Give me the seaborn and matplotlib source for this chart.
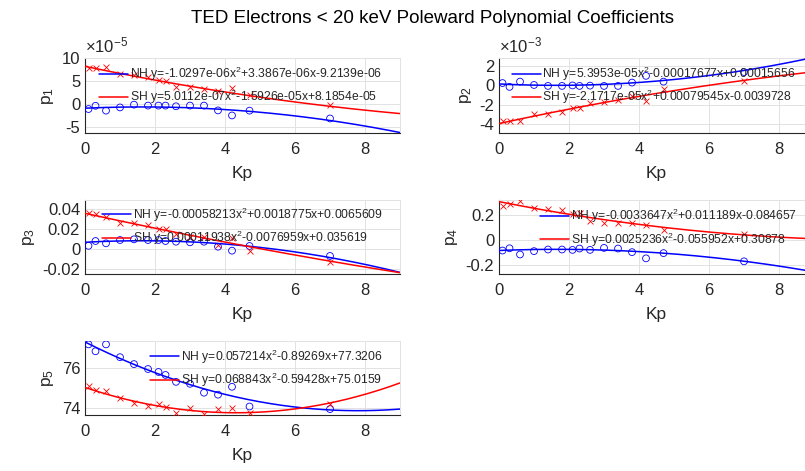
import numpy as np
import pandas as pd
import matplotlib
matplotlib.use("Agg")
import matplotlib.pyplot as plt
import seaborn as sns
from matplotlib.ticker import MultipleLocator, FuncFormatter

# ---------------- data ----------------
kp = [0.1, 0.3, 0.6, 1.0, 1.4, 1.8, 2.1, 2.3, 2.6, 3.0, 3.4, 3.8, 4.2, 4.7, 7.0]

nh_p1 = [-1.10e-05, -0.40e-05, -1.45e-05, -0.75e-05, -0.15e-05, -0.35e-05, -0.35e-05, -0.35e-05,
         -0.50e-05, -0.35e-05, -0.35e-05, -1.40e-05, -2.50e-05, -1.45e-05, -3.15e-05]
sh_p1 = [7.85e-05, 7.85e-05, 8.00e-05, 6.50e-05, 6.20e-05, 5.80e-05, 5.15e-05, 4.95e-05,
         3.65e-05, 3.65e-05, 3.30e-05, 2.90e-05, 3.50e-05, 1.90e-05, -0.20e-05]
nh_p2 = [0.25e-03, -0.15e-03, 0.40e-03, 0.05e-03, -0.05e-03, -0.05e-03, 0.00e-03, -0.05e-03,
         -0.02e-03, -0.05e-03, -0.05e-03, 0.30e-03, 1.00e-03, 0.40e-03, 1.40e-03]
sh_p2 = [-3.75e-03, -3.75e-03, -3.70e-03, -3.00e-03, -3.00e-03, -2.75e-03, -2.30e-03, -2.40e-03,
         -1.80e-03, -1.70e-03, -1.50e-03, -1.10e-03, -1.60e-03, -0.40e-03, 0.50e-03]
nh_p3 = [0.0030, 0.0078, 0.0055, 0.0088, 0.0095, 0.0088, 0.0088, 0.0078,
         0.0071, 0.0065, 0.0071, 0.0021, -0.0019, 0.0028, -0.0072]
sh_p3 = [0.0356, 0.0346, 0.0316, 0.0256, 0.0260, 0.0240, 0.0196, 0.0196,
         0.0145, 0.0115, 0.0115, 0.0038, 0.0105, -0.0019, -0.0129]
nh_p4 = [-0.085, -0.067, -0.117, -0.090, -0.077, -0.077, -0.080, -0.069,
         -0.080, -0.064, -0.069, -0.098, -0.148, -0.106, -0.172]
sh_p4 = [0.277, 0.287, 0.317, 0.261, 0.251, 0.243, 0.212, 0.217,
         0.151, 0.138, 0.138, 0.133, 0.120, 0.078, 0.046]
nh_p5 = [77.20, 76.85, 77.20, 76.55, 76.20, 75.95, 75.80, 75.65,
         75.30, 75.20, 74.75, 74.65, 75.05, 74.05, 73.92]
sh_p5 = [75.10, 74.90, 74.85, 74.50, 74.25, 74.10, 74.20, 74.05,
         73.70, 73.95, 73.68, 73.90, 74.00, 73.70, 74.20]

# quadratic fit coefficients as printed in the legends
nh_coef_p1 = ["-1.0297e-06", "+3.3867e-06", "-9.2139e-06"]
sh_coef_p1 = ["5.0112e-07", "-1.5926e-05", "+8.1854e-05"]
nh_coef_p2 = ["5.3953e-05", "-0.00017677", "+0.00015656"]
sh_coef_p2 = ["-2.1717e-05", "+0.00079545", "-0.0039728"]
nh_coef_p3 = ["-0.00058213", "+0.0018775", "+0.0065609"]
sh_coef_p3 = ["0.00011938", "-0.0076959", "+0.035619"]
nh_coef_p4 = ["-0.0033647", "+0.011189", "-0.084657"]
sh_coef_p4 = ["0.0025236", "-0.055952", "+0.30878"]
nh_coef_p5 = ["0.057214", "-0.89269", "+77.3206"]
sh_coef_p5 = ["0.068843", "-0.59428", "+75.0159"]

title = "TED Electrons < 20 keV Poleward Polynomial Coefficients"
ylabels = ["p$_1$", "p$_2$", "p$_3$", "p$_4$", "p$_5$"]
xlabel = "Kp"
xticks = [0, 2, 4, 6, 8]

# ---------------- style ----------------
sns.set_style("white")
plt.rcParams["font.family"] = ["Liberation Sans", "DejaVu Sans"]
plt.rcParams["mathtext.fontset"] = "custom"
plt.rcParams["mathtext.rm"] = "Liberation Sans"
plt.rcParams["mathtext.it"] = "Liberation Sans:italic"
plt.rcParams["mathtext.bf"] = "Liberation Sans:bold"
plt.rcParams["mathtext.default"] = "regular"
plt.rcParams["axes.unicode_minus"] = False

DARK = "#262626"
GRID = "#e2e2e2"

fig = plt.figure(figsize=(8.05, 4.71), dpi=100)

panels = [
    dict(nh=nh_p1, sh=sh_p1, nc=nh_coef_p1, sc=sh_coef_p1, pos=[0.1056, 0.7176, 0.3913, 0.1592],
         ylim=(-6.32e-05, 10e-05), step=5e-05, scale=1e-05, exp="-5", leg=(0.044, 0.633)),
    dict(nh=nh_p2, sh=sh_p2, nc=nh_coef_p2, sc=sh_coef_p2, pos=[0.6199, 0.7176, 0.3913, 0.1592],
         ylim=(-4.96e-03, 2.86e-03), step=2e-03, scale=1e-03, exp="-3", leg=(0.040, 0.634)),
    dict(nh=nh_p3, sh=sh_p3, nc=nh_coef_p3, sc=sh_coef_p3, pos=[0.1056, 0.4183, 0.3913, 0.1571],
         ylim=(-0.0253, 0.049), step=0.02, scale=1, exp=None, leg=(0.053, 0.645)),
    dict(nh=nh_p4, sh=sh_p4, nc=nh_coef_p4, sc=sh_coef_p4, pos=[0.6199, 0.4183, 0.3913, 0.1571],
         ylim=(-0.274, 0.322), step=0.2, scale=1, exp=None, leg=(0.130, 0.625)),
    dict(nh=nh_p5, sh=sh_p5, nc=nh_coef_p5, sc=sh_coef_p5, pos=[0.1056, 0.1189, 0.3913, 0.1571],
         ylim=(73.62, 77.37), step=2, scale=1, exp=None, leg=(0.206, 0.630)),
]

x_fit = np.linspace(0, 9, 300)


def make_formatter(scale):
    def f(v, pos):
        r = round(v / scale, 6)
        if r == 0:
            r = 0.0
        return f"{r:g}"
    return FuncFormatter(f)


for i, p in enumerate(panels):
    ax = fig.add_axes(p["pos"])
    df = pd.DataFrame({"Kp": kp, "NH": p["nh"], "SH": p["sh"]})

    nh_c = [float(c) for c in p["nc"]]
    sh_c = [float(c) for c in p["sc"]]
    fit = pd.DataFrame({"Kp": x_fit,
                        "NH": np.polyval(nh_c, x_fit),
                        "SH": np.polyval(sh_c, x_fit)})

    sns.scatterplot(data=df, x="Kp", y="NH", ax=ax, marker="o", s=24,
                    facecolor="none", edgecolor="blue", linewidth=0.6, zorder=3)
    sns.scatterplot(data=df, x="Kp", y="SH", ax=ax, marker="x", s=18,
                    color="red", linewidth=0.6, zorder=3)
    sns.lineplot(data=fit, x="Kp", y="NH", ax=ax, color="blue", lw=1.1,
                 sort=False, estimator=None, zorder=4)
    sns.lineplot(data=fit, x="Kp", y="SH", ax=ax, color="red", lw=1.1,
                 sort=False, estimator=None, zorder=4)

    ax.set_xlim(0, 9)
    ax.set_ylim(*p["ylim"])
    ax.set_xticks(xticks)
    ax.yaxis.set_major_locator(MultipleLocator(p["step"]))
    ax.yaxis.set_major_formatter(make_formatter(p["scale"]))

    ax.grid(True, color=GRID, lw=0.7)
    ax.set_axisbelow(True)
    for side in ["left", "bottom"]:
        ax.spines[side].set_color(DARK)
        ax.spines[side].set_linewidth(0.8)
    for side in ["top", "right"]:
        ax.spines[side].set_color(GRID)
        ax.spines[side].set_linewidth(0.7)

    ax.tick_params(axis="both", direction="in", length=3, width=0.7,
                   colors=DARK, labelsize=12)
    ax.tick_params(axis="x", pad=6.5)
    ax.tick_params(axis="y", pad=3.5)

    ax.set_xlabel(xlabel, fontsize=12.5, color=DARK, labelpad=6.5)
    ax.set_ylabel(ylabels[i], fontsize=12.5, color=DARK)

    if p["exp"] is not None:
        ax.annotate("\u00d710$^{" + p["exp"] + "}$", xy=(0, 1), xycoords="axes fraction",
                    xytext=(0, 2), textcoords="offset points", ha="left", va="bottom",
                    fontsize=12, color=DARK)

    nh_label = "NH y=" + p["nc"][0] + "x$^2$" + p["nc"][1] + "x" + p["nc"][2]
    sh_label = "SH y=" + p["sc"][0] + "x$^2$" + p["sc"][1] + "x" + p["sc"][2]
    handles = ax.lines[:2]
    ax.legend(handles=handles, labels=[nh_label, sh_label], loc="center left",
              bbox_to_anchor=p["leg"], frameon=False, fontsize=8.7,
              handlelength=2.4, handletextpad=0.15, labelspacing=0.45,
              borderpad=0, borderaxespad=0)

fig.text(0.537, 0.96, title, ha="center", va="center", fontsize=13.5, color="black")

fig.savefig("out.png", dpi=100)
